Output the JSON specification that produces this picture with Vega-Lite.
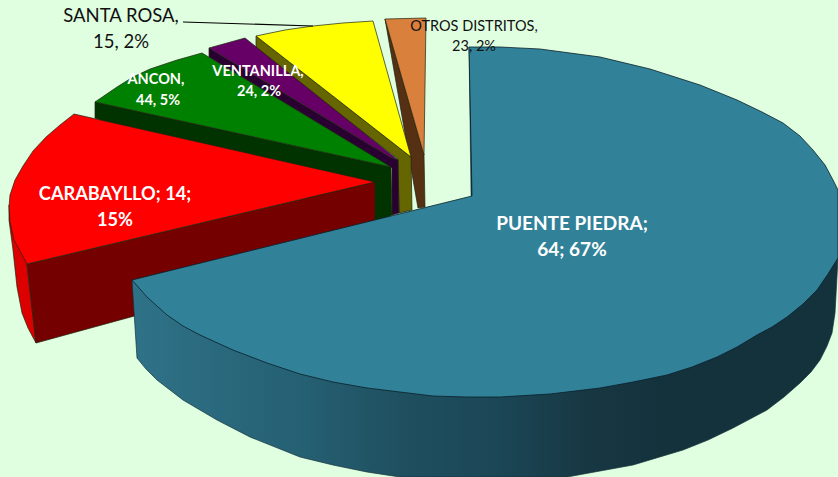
{"$schema":"https://vega.github.io/schema/vega-lite/v6.json","width":838,"height":477,"padding":0,"autosize":{"type":"none"},"background":"#E0FFE0","config":{"view":{"stroke":null}},
"datasets":{"shapes":[
{"part":"otros side","seq":1,"x":385,"y":19},{"part":"otros side","seq":2,"x":424,"y":155},{"part":"otros side","seq":3,"x":425,"y":207},{"part":"otros side","seq":4,"x":418,"y":208},{"part":"otros side","seq":5,"x":385,"y":19},
{"part":"otros top","seq":1,"x":385,"y":19},{"part":"otros top","seq":2,"x":426,"y":18},{"part":"otros top","seq":3,"x":424,"y":155},{"part":"otros top","seq":4,"x":385,"y":19},
{"part":"santa side","seq":1,"x":256,"y":36},{"part":"santa side","seq":2,"x":411,"y":157},{"part":"santa side","seq":3,"x":412,"y":210},{"part":"santa side","seq":4,"x":399,"y":213},{"part":"santa side","seq":5,"x":398,"y":159},{"part":"santa side","seq":6,"x":256,"y":50},{"part":"santa side","seq":7,"x":256,"y":36},
{"part":"santa top","seq":1,"x":256,"y":36},{"part":"santa top","seq":2,"x":285,"y":30},{"part":"santa top","seq":3,"x":313,"y":26},{"part":"santa top","seq":4,"x":343,"y":23},{"part":"santa top","seq":5,"x":373,"y":21},{"part":"santa top","seq":6,"x":411,"y":157},{"part":"santa top","seq":7,"x":256,"y":36},
{"part":"ventanilla side","seq":1,"x":209,"y":48},{"part":"ventanilla side","seq":2,"x":390,"y":157},{"part":"ventanilla side","seq":3,"x":398,"y":160},{"part":"ventanilla side","seq":4,"x":399,"y":213},{"part":"ventanilla side","seq":5,"x":392,"y":215},{"part":"ventanilla side","seq":6,"x":392,"y":168},{"part":"ventanilla side","seq":7,"x":209,"y":57},{"part":"ventanilla side","seq":8,"x":209,"y":48},
{"part":"ventanilla top","seq":1,"x":209,"y":48},{"part":"ventanilla top","seq":2,"x":227,"y":43},{"part":"ventanilla top","seq":3,"x":245,"y":38},{"part":"ventanilla top","seq":4,"x":398,"y":160},{"part":"ventanilla top","seq":5,"x":390,"y":157},{"part":"ventanilla top","seq":6,"x":209,"y":48},
{"part":"ancon side","seq":1,"x":95,"y":102},{"part":"ancon side","seq":2,"x":391,"y":167},{"part":"ancon side","seq":3,"x":392,"y":215},{"part":"ancon side","seq":4,"x":375,"y":225},{"part":"ancon side","seq":5,"x":95,"y":118},{"part":"ancon side","seq":6,"x":95,"y":102},
{"part":"ancon top","seq":1,"x":95,"y":102},{"part":"ancon top","seq":2,"x":117,"y":87},{"part":"ancon top","seq":3,"x":133,"y":77},{"part":"ancon top","seq":4,"x":150,"y":69},{"part":"ancon top","seq":5,"x":177,"y":60},{"part":"ancon top","seq":6,"x":202,"y":53},{"part":"ancon top","seq":7,"x":391,"y":167},{"part":"ancon top","seq":8,"x":95,"y":102},
{"part":"carabayllo outer","seq":1,"x":9,"y":205},{"part":"carabayllo outer","seq":2,"x":27,"y":264},{"part":"carabayllo outer","seq":3,"x":36,"y":343},{"part":"carabayllo outer","seq":4,"x":28,"y":328},{"part":"carabayllo outer","seq":5,"x":22,"y":313},{"part":"carabayllo outer","seq":6,"x":17,"y":287},{"part":"carabayllo outer","seq":7,"x":13,"y":250},{"part":"carabayllo outer","seq":8,"x":9,"y":220},{"part":"carabayllo outer","seq":9,"x":9,"y":205},
{"part":"carabayllo side","seq":1,"x":27,"y":264},{"part":"carabayllo side","seq":2,"x":375,"y":182},{"part":"carabayllo side","seq":3,"x":375,"y":250},{"part":"carabayllo side","seq":4,"x":36,"y":343},{"part":"carabayllo side","seq":5,"x":27,"y":264},
{"part":"carabayllo top","seq":1,"x":74,"y":114},{"part":"carabayllo top","seq":2,"x":60,"y":125},{"part":"carabayllo top","seq":3,"x":46,"y":137},{"part":"carabayllo top","seq":4,"x":33,"y":151},{"part":"carabayllo top","seq":5,"x":23,"y":166},{"part":"carabayllo top","seq":6,"x":15,"y":180},{"part":"carabayllo top","seq":7,"x":10,"y":195},{"part":"carabayllo top","seq":8,"x":9,"y":207},{"part":"carabayllo top","seq":9,"x":10,"y":222},{"part":"carabayllo top","seq":10,"x":14,"y":240},{"part":"carabayllo top","seq":11,"x":27,"y":264},{"part":"carabayllo top","seq":12,"x":375,"y":182},{"part":"carabayllo top","seq":13,"x":74,"y":114},
{"part":"puente side","seq":1,"x":132,"y":280},{"part":"puente side","seq":2,"x":137,"y":358},{"part":"puente side","seq":3,"x":146,"y":369},{"part":"puente side","seq":4,"x":157,"y":380},{"part":"puente side","seq":5,"x":183,"y":400},{"part":"puente side","seq":6,"x":217,"y":420},{"part":"puente side","seq":7,"x":250,"y":437},{"part":"puente side","seq":8,"x":300,"y":457},{"part":"puente side","seq":9,"x":333,"y":465},{"part":"puente side","seq":10,"x":367,"y":472},{"part":"puente side","seq":11,"x":400,"y":477},{"part":"puente side","seq":12,"x":567,"y":477},{"part":"puente side","seq":13,"x":600,"y":471},{"part":"puente side","seq":14,"x":633,"y":465},{"part":"puente side","seq":15,"x":683,"y":450},{"part":"puente side","seq":16,"x":708,"y":440},{"part":"puente side","seq":17,"x":733,"y":428},{"part":"puente side","seq":18,"x":750,"y":419},{"part":"puente side","seq":19,"x":767,"y":410},{"part":"puente side","seq":20,"x":784,"y":397},{"part":"puente side","seq":21,"x":800,"y":383},{"part":"puente side","seq":22,"x":811,"y":372},{"part":"puente side","seq":23,"x":820,"y":360},{"part":"puente side","seq":24,"x":827,"y":346},{"part":"puente side","seq":25,"x":832,"y":333},{"part":"puente side","seq":26,"x":835,"y":313},{"part":"puente side","seq":27,"x":838,"y":258},{"part":"puente side","seq":28,"x":600,"y":300},{"part":"puente side","seq":29,"x":132,"y":280},
{"part":"puente sliver","seq":1,"x":469,"y":47},{"part":"puente sliver","seq":2,"x":475,"y":195},{"part":"puente sliver","seq":3,"x":471,"y":196},{"part":"puente sliver","seq":4,"x":469,"y":47},
{"part":"puente top","seq":1,"x":472,"y":196},{"part":"puente top","seq":2,"x":469,"y":47},{"part":"puente top","seq":3,"x":500,"y":47},{"part":"puente top","seq":4,"x":540,"y":49},{"part":"puente top","seq":5,"x":600,"y":57},{"part":"puente top","seq":6,"x":650,"y":69},{"part":"puente top","seq":7,"x":700,"y":85},{"part":"puente top","seq":8,"x":737,"y":100},{"part":"puente top","seq":9,"x":762,"y":112},{"part":"puente top","seq":10,"x":783,"y":123},{"part":"puente top","seq":11,"x":800,"y":136},{"part":"puente top","seq":12,"x":813,"y":150},{"part":"puente top","seq":13,"x":825,"y":165},{"part":"puente top","seq":14,"x":833,"y":180},{"part":"puente top","seq":15,"x":838,"y":190},{"part":"puente top","seq":16,"x":838,"y":258},{"part":"puente top","seq":17,"x":828,"y":274},{"part":"puente top","seq":18,"x":817,"y":290},{"part":"puente top","seq":19,"x":803,"y":304},{"part":"puente top","seq":20,"x":787,"y":317},{"part":"puente top","seq":21,"x":772,"y":327},{"part":"puente top","seq":22,"x":757,"y":335},{"part":"puente top","seq":23,"x":737,"y":347},{"part":"puente top","seq":24,"x":717,"y":357},{"part":"puente top","seq":25,"x":692,"y":367},{"part":"puente top","seq":26,"x":667,"y":375},{"part":"puente top","seq":27,"x":633,"y":382},{"part":"puente top","seq":28,"x":600,"y":388},{"part":"puente top","seq":29,"x":550,"y":394},{"part":"puente top","seq":30,"x":500,"y":397},{"part":"puente top","seq":31,"x":467,"y":397},{"part":"puente top","seq":32,"x":433,"y":396},{"part":"puente top","seq":33,"x":400,"y":392},{"part":"puente top","seq":34,"x":367,"y":388},{"part":"puente top","seq":35,"x":333,"y":382},{"part":"puente top","seq":36,"x":300,"y":374},{"part":"puente top","seq":37,"x":267,"y":363},{"part":"puente top","seq":38,"x":233,"y":350},{"part":"puente top","seq":39,"x":200,"y":335},{"part":"puente top","seq":40,"x":183,"y":326},{"part":"puente top","seq":41,"x":167,"y":315},{"part":"puente top","seq":42,"x":147,"y":297},{"part":"puente top","seq":43,"x":132,"y":280},{"part":"puente top","seq":44,"x":472,"y":196},
{"part":"leader","seq":1,"x":183,"y":22},{"part":"leader","seq":2,"x":313,"y":26}
],
"labels":[
{"group":"santa","text":"SANTA ROSA,","x":121,"y":16},{"group":"santa","text":"15, 2%","x":121,"y":42},
{"group":"otros","text":"OTROS DISTRITOS,","x":474,"y":27},{"group":"otros","text":"23, 2%","x":474,"y":47},
{"group":"small","text":"ANCON,","x":156,"y":80},{"group":"small","text":"44, 5%","x":158,"y":101},
{"group":"small","text":"VENTANILLA,","x":258,"y":72},{"group":"small","text":"24, 2%","x":259,"y":92},
{"group":"carabayllo","text":"CARABAYLLO; 14;","x":115,"y":195},{"group":"carabayllo","text":"15%","x":115,"y":221},
{"group":"puente","text":"PUENTE PIEDRA;","x":572,"y":224},{"group":"puente","text":"64; 67%","x":572,"y":250}
]},
"encoding":{"x":{"field":"x","type":"quantitative","axis":null,"scale":{"domain":[0,838],"nice":false,"zero":false}},"y":{"field":"y","type":"quantitative","axis":null,"scale":{"domain":[477,0],"nice":false,"zero":false}}},
"layer":[
{"data":{"name":"shapes"},"transform":[{"filter":{"field":"part","oneOf":["otros side","otros top","santa side","santa top","ventanilla side","ventanilla top","ancon side","ancon top","carabayllo outer","carabayllo side","carabayllo top"]}}],"mark":{"type":"line","stroke":"#1c2410","strokeWidth":0.7,"strokeJoin":"round"},"encoding":{"order":{"field":"seq","type":"quantitative"},"fill":{"field":"part","type":"nominal","legend":null,"sort":null,"scale":{"domain":["otros side","otros top","santa side","santa top","ventanilla side","ventanilla top","ancon side","ancon top","carabayllo outer","carabayllo side","carabayllo top"],"range":["#553013","#D9803C","#666600","#FFFF00","#2A0033","#660066","#003300","#008000","#DD0000","#750000","#FF0000"]}}}},
{"data":{"name":"shapes"},"transform":[{"filter":{"field":"part","equal":"puente side"}}],"mark":{"type":"line","stroke":"#12303a","strokeWidth":0.7,"fill":{"gradient":"linear","x1":0,"x2":1,"y1":0,"y2":0,"stops":[{"offset":0,"color":"#2F7388"},{"offset":0.1,"color":"#2B6A7F"},{"offset":0.24,"color":"#256073"},{"offset":0.38,"color":"#1F5060"},{"offset":0.52,"color":"#1B4656"},{"offset":0.65,"color":"#173742"},{"offset":0.75,"color":"#13323C"},{"offset":1,"color":"#13323C"}]}},"encoding":{"order":{"field":"seq","type":"quantitative"}}},
{"data":{"name":"shapes"},"transform":[{"filter":{"field":"part","equal":"puente sliver"}}],"mark":{"type":"line","stroke":"#16333D","strokeWidth":0.5,"fill":"#16333D"},"encoding":{"order":{"field":"seq","type":"quantitative"}}},
{"data":{"name":"shapes"},"transform":[{"filter":{"field":"part","equal":"puente top"}}],"mark":{"type":"line","stroke":"#0A2029","strokeWidth":0.8,"fill":"#318299"},"encoding":{"order":{"field":"seq","type":"quantitative"}}},
{"data":{"name":"shapes"},"transform":[{"filter":{"field":"part","equal":"leader"}}],"mark":{"type":"line","stroke":"#000000","strokeWidth":1.2},"encoding":{"order":{"field":"seq","type":"quantitative"}}},
{"data":{"name":"labels"},"transform":[{"filter":{"field":"group","equal":"santa"}}],"mark":{"type":"text","font":"Lato","fontSize":18.5,"color":"#111111"},"encoding":{"text":{"field":"text"}}},
{"data":{"name":"labels"},"transform":[{"filter":{"field":"group","equal":"otros"}}],"mark":{"type":"text","font":"Lato","fontSize":14.5,"color":"#111111"},"encoding":{"text":{"field":"text"}}},
{"data":{"name":"labels"},"transform":[{"filter":{"field":"group","equal":"small"}}],"mark":{"type":"text","font":"Lato","fontSize":14.5,"fontWeight":"bold","color":"#FFFFFF"},"encoding":{"text":{"field":"text"}}},
{"data":{"name":"labels"},"transform":[{"filter":{"field":"group","equal":"carabayllo"}}],"mark":{"type":"text","font":"Lato","fontSize":18.2,"fontWeight":"bold","color":"#FFFFFF"},"encoding":{"text":{"field":"text"}}},
{"data":{"name":"labels"},"transform":[{"filter":{"field":"group","equal":"puente"}}],"mark":{"type":"text","font":"Lato","fontSize":19,"fontWeight":"bold","color":"#FFFFFF"},"encoding":{"text":{"field":"text"}}}
]}
